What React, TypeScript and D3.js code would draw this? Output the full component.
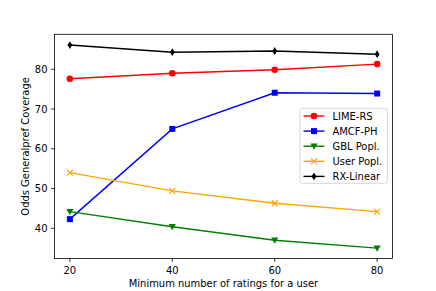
import React from "react";
import * as d3 from "d3";

// x values (minimum number of ratings)
const minRatings = [20, 40, 60, 80];
const xTicks = [20, 40, 60, 80];
const yTicks = [40, 50, 60, 70, 80];

const limeRS = [77.6, 79.0, 79.9, 81.3];
const amcfPH = [42.3, 65.0, 74.1, 73.9];
const gblPopl = [44.2, 40.4, 37.0, 35.0];
const userPopl = [54.0, 49.4, 46.3, 44.2];
const rxLinear = [86.1, 84.3, 84.6, 83.8];

const series = [
  { name: "LIME-RS", values: limeRS, color: "#ff0000", marker: "circle" },
  { name: "AMCF-PH", values: amcfPH, color: "#0000ff", marker: "square" },
  { name: "GBL Popl.", values: gblPopl, color: "#008000", marker: "tri" },
  { name: "User Popl.", values: userPopl, color: "#ffa500", marker: "x" },
  { name: "RX-Linear", values: rxLinear, color: "#000000", marker: "diamond" },
];

const font = "'DejaVu Sans', sans-serif";
const fs = 9.95;

const Marker = ({ type, x, y, color }) => {
  if (type === "circle") return <circle cx={x} cy={y} r={3.3} fill={color} />;
  if (type === "square")
    return <rect x={x - 3} y={y - 3} width={6} height={6} fill={color} />;
  if (type === "tri")
    return <path d={`M${x - 3.6},${y - 2.7}L${x + 3.6},${y - 2.7}L${x},${y + 3.6}Z`} fill={color} />;
  if (type === "x")
    return (
      <path
        d={`M${x - 3},${y - 3}L${x + 3},${y + 3}M${x - 3},${y + 3}L${x + 3},${y - 3}`}
        stroke={color}
        strokeWidth={1.2}
      />
    );
  return <path d={`M${x},${y - 3.9}L${x + 2.4},${y}L${x},${y + 3.9}L${x - 2.4},${y}Z`} fill={color} />;
};

export default function App() {
  const left = 54.5;
  const right = 392.5;
  const top = 34.3;
  const bottom = 258.5;

  const x = d3.scaleLinear().domain([17, 83]).range([left, right]);
  const y = d3.scaleLinear().domain([32.4, 88.8]).range([bottom, top]);

  const line = d3
    .line<number>()
    .x((d, i) => x(minRatings[i]))
    .y((d) => y(d));

  const lx = 300;
  const ly = 108.3;

  return (
    <svg
      width={436}
      height={291}
      style={{ position: "absolute", left: 0, top: 0, background: "#fff" }}
      fontFamily={font}
    >
      <rect width={436} height={291} fill="#fff" />
      {series.map((s) => (
        <g key={s.name}>
          <path d={line(s.values)} fill="none" stroke={s.color} strokeWidth={1.4} />
          {s.values.map((v, i) => (
            <Marker key={i} type={s.marker} x={x(minRatings[i])} y={y(v)} color={s.color} />
          ))}
        </g>
      ))}

      {/* axes frame */}
      <rect
        x={left}
        y={top}
        width={right - left}
        height={bottom - top}
        fill="none"
        stroke="#000"
        strokeWidth={0.8}
      />

      {xTicks.map((t) => (
        <g key={t}>
          <line x1={x(t)} x2={x(t)} y1={bottom} y2={bottom + 3.4} stroke="#000" strokeWidth={0.8} />
          <text x={x(t)} y={bottom + 15.5} textAnchor="middle" fontSize={fs}>
            {t}
          </text>
        </g>
      ))}
      {yTicks.map((t) => (
        <g key={t}>
          <line x1={left - 3.4} x2={left} y1={y(t)} y2={y(t)} stroke="#000" strokeWidth={0.8} />
          <text x={left - 7} y={y(t) + 3.6} textAnchor="end" fontSize={fs}>
            {t}
          </text>
        </g>
      ))}

      <text x={(left + right) / 2} y={287} textAnchor="middle" fontSize={fs}>
        Minimum number of ratings for a user
      </text>
      <text
        transform={`translate(28.5,${(top + bottom) / 2}) rotate(-90)`}
        textAnchor="middle"
        fontSize={fs}
      >
        Odds Generalpref Coverage
      </text>

      {/* legend */}
      <rect
        x={lx}
        y={ly}
        width={87.3}
        height={75}
        rx={2.5}
        fill="#fff"
        fillOpacity={0.8}
        stroke="#cccccc"
        strokeWidth={0.8}
      />
      {series.map((s, i) => {
        const yy = ly + 7.7 + i * 15.1;
        return (
          <g key={s.name}>
            <line x1={lx + 3.5} x2={lx + 24.5} y1={yy} y2={yy} stroke={s.color} strokeWidth={1.4} />
            <Marker type={s.marker} x={lx + 14} y={yy} color={s.color} />
            <text x={lx + 32.5} y={yy + 3.6} fontSize={fs}>
              {s.name}
            </text>
          </g>
        );
      })}
    </svg>
  );
}
